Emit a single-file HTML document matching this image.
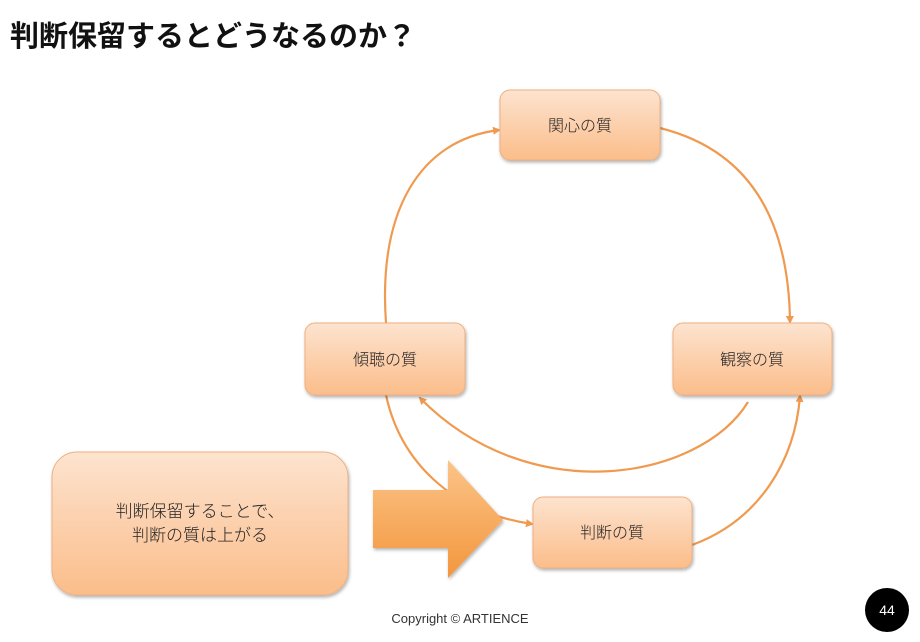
<!DOCTYPE html>
<html><head><meta charset="utf-8"><style>
body{margin:0;width:920px;height:637px;background:#fff;overflow:hidden;font-family:"Liberation Sans","Noto Sans CJK JP",sans-serif}
</style></head><body>
<svg width="920" height="637" viewBox="0 0 920 637" xmlns="http://www.w3.org/2000/svg">
<defs>
<linearGradient id="g" x1="0" y1="0" x2="0" y2="1"><stop offset="0" stop-color="#fde3cf"/><stop offset="1" stop-color="#fbbd8a"/></linearGradient>
<linearGradient id="ga" x1="0" y1="0" x2="0" y2="1"><stop offset="0" stop-color="#fbc489"/><stop offset="1" stop-color="#f3963c"/></linearGradient>
<filter id="s" x="-10%" y="-10%" width="130%" height="140%"><feDropShadow dx="1" dy="2" stdDeviation="1.5" flood-color="#000" flood-opacity="0.3"/></filter>
<marker id="m" markerWidth="8" markerHeight="8" refX="6" refY="4" orient="auto" markerUnits="userSpaceOnUse"><path d="M0,0 L8,4 L0,8 z" fill="#f09a50"/></marker>
</defs>
<text x="10" y="46" font-size="29" font-weight="bold" fill="#111" font-family="'Liberation Sans','Noto Sans CJK JP',sans-serif">判断保留するとどうなるのか？</text>
<g fill="none" stroke="#f09a50" stroke-width="2.2" marker-end="url(#m)">
<path d="M660,128 Q788,160 790,322"/>
<path d="M386,323 C378,210 420,140 499,130"/>
<path d="M748,402 C700,480 530,510 420,398"/>
<path d="M386,395 C400,460 450,512 532,524"/>
<path d="M692,545 C760,520 795,460 800,396"/>
</g>
<g filter="url(#s)" stroke="#f0b080" stroke-width="1" fill="url(#g)">
<rect x="500" y="90" width="160" height="70" rx="10"/>
<rect x="305" y="323" width="160" height="72" rx="10"/>
<rect x="673" y="323" width="159" height="72" rx="10"/>
<rect x="533" y="497" width="159" height="71" rx="10"/>
<rect x="52" y="452" width="296" height="143" rx="25"/>
</g>
<path d="M373,490 L448,490 L448,460 L503,520 L448,578 L448,548 L373,548 z" fill="url(#ga)" filter="url(#s)"/>
<g font-size="16" fill="#222" text-anchor="middle" font-weight="300">
<text x="580" y="131">関心の質</text>
<text x="385" y="365">傾聴の質</text>
<text x="752" y="365">観察の質</text>
<text x="612" y="538">判断の質</text>
<text x="200" y="517" font-size="17">判断保留することで、</text>
<text x="200" y="541" font-size="17">判断の質は上がる</text>
</g>
<text x="460" y="623" font-size="13" fill="#333" text-anchor="middle">Copyright © ARTIENCE</text>
<circle cx="887" cy="610" r="22" fill="#000"/>
<text x="887" y="615" font-size="14" fill="#fff" text-anchor="middle">44</text>
</svg>
</body></html>
